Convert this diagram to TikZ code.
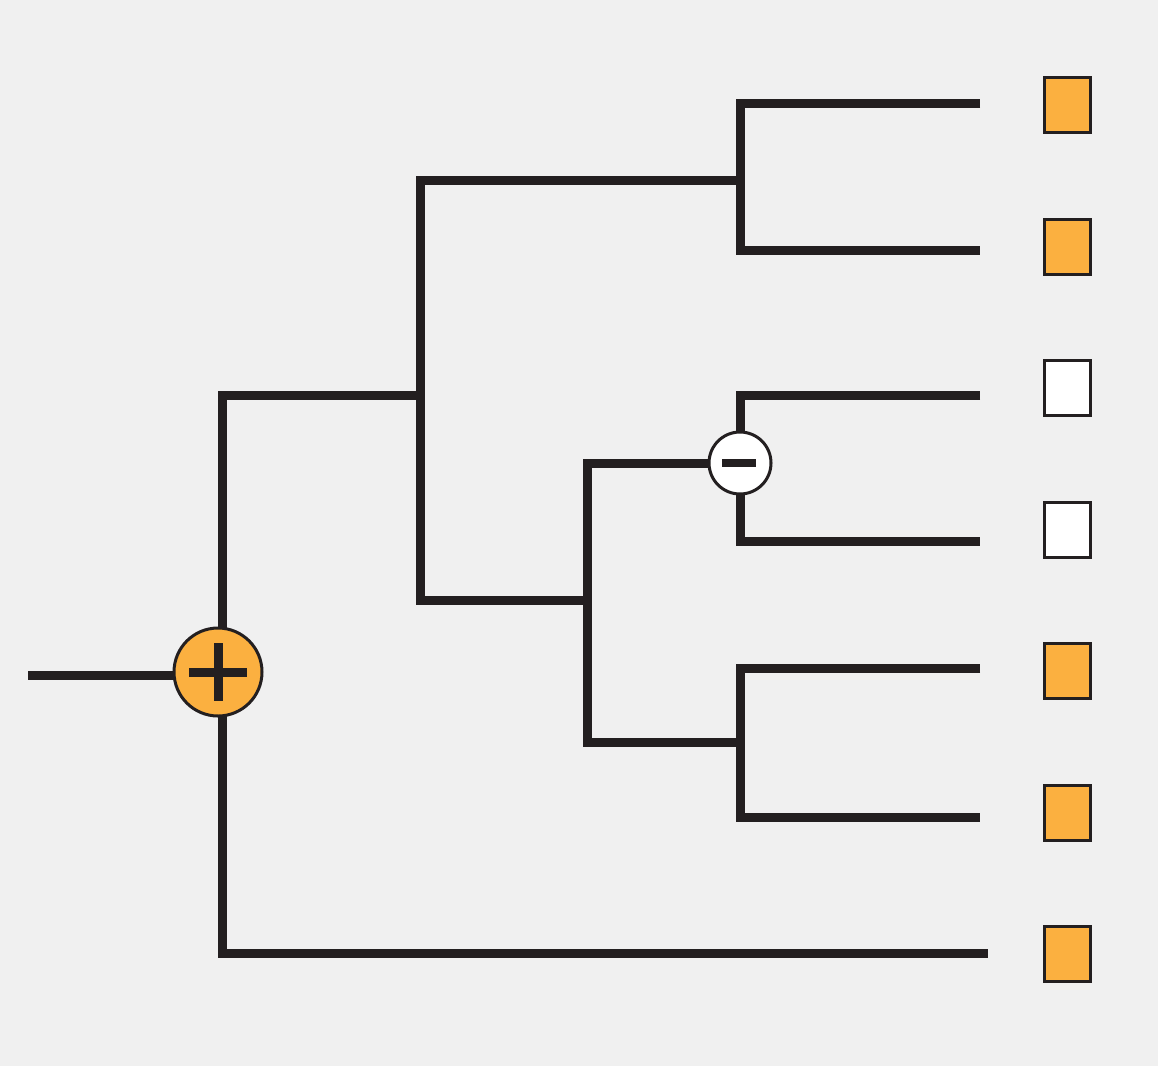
\documentclass[tikz,border=0pt]{standalone}
\definecolor{bg}{HTML}{F0F0F0}
\definecolor{ink}{HTML}{231F20}
\definecolor{orng}{HTML}{FBB040}
\tikzset{
  branch/.style={draw=ink, line width=9pt, line join=miter},
  leafbox/.style={draw=ink, line width=3pt, minimum width=46pt, minimum height=55pt, inner sep=0pt, rectangle},
  present/.style={leafbox, fill=orng},
  absent/.style={leafbox, fill=white},
  gain/.style={circle, draw=ink, line width=3pt, fill=orng, minimum size=88pt, inner sep=0pt},
  loss/.style={circle, draw=ink, line width=3pt, fill=white, minimum size=62pt, inner sep=0pt},
}
\begin{document}
\begin{tikzpicture}[x=1pt,y=-1pt]
\fill[bg] (0,0) rectangle (1158,1066);
\useasboundingbox (0,0) rectangle (1158,1066);
% coordinates
\coordinate (root) at (28,675);
\coordinate (a1) at (222,395);
\coordinate (a2) at (222,953);
\coordinate (b) at (420,395);
\coordinate (b1) at (420,180);
\coordinate (b2) at (420,600);
\coordinate (c) at (740,180);
\coordinate (c1) at (740,103);
\coordinate (c2) at (740,250);
\coordinate (d) at (587,600);
\coordinate (d1) at (587,463);
\coordinate (d2) at (587,742);
\coordinate (e) at (740,463);
\coordinate (e1) at (740,395);
\coordinate (e2) at (740,541);
\coordinate (f) at (740,742);
\coordinate (f1) at (740,668);
\coordinate (f2) at (740,817);
\coordinate (l1) at (980,103);
\coordinate (l2) at (980,250);
\coordinate (l3) at (980,395);
\coordinate (l4) at (980,541);
\coordinate (l5) at (980,668);
\coordinate (l6) at (980,817);
\coordinate (l7) at (988,953);
% tree
\draw[branch] (root) -- (218,675);
\draw[branch] (b) -- (a1) -- (a2) -- (l7);
\draw[branch] (c) -- (b1) -- (b2) -- (d);
\draw[branch] (l1) -- (c1) -- (c2) -- (l2);
\draw[branch] (e) -- (d1) -- (d2) -- (f);
\draw[branch] (l3) -- (e1) -- (e2) -- (l4);
\draw[branch] (l5) -- (f1) -- (f2) -- (l6);
% event nodes
\node[gain] (plus) at (218,672) {};
\draw[ink, line width=9pt] (189,672) -- (247,672);
\draw[ink, line width=9pt] (218,643) -- (218,701);
\node[loss] (minus) at (e) {};
\draw[ink, line width=8pt] (722,463) -- (756,463);
% leaf states
\node[present] (s1) at (1067,105) {};
\node[present] (s2) at (1067,247) {};
\node[absent]  (s3) at (1067,388) {};
\node[absent]  (s4) at (1067,530) {};
\node[present] (s5) at (1067,671) {};
\node[present] (s6) at (1067,813) {};
\node[present] (s7) at (1067,954) {};
\end{tikzpicture}
\end{document}
